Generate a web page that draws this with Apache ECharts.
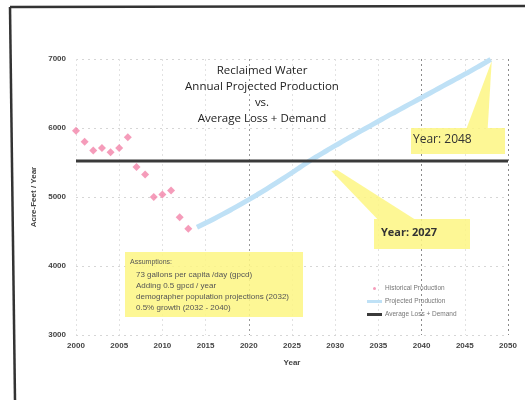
<!DOCTYPE html>
<html><head><meta charset="utf-8">
<script src="https://cdn.jsdelivr.net/npm/echarts@6/dist/echarts.min.js"></script>
<style>html,body{margin:0;padding:0;background:#fff}#c{width:525px;height:400px}</style>
</head><body><div id="c"></div>
<script>
const histYears = [2000,2001,2002,2003,2004,2005,2006,2007,2008,2009,2010,2011,2012,2013];
const histValues = [5960,5800,5675,5710,5650,5710,5865,5435,5325,5000,5035,5095,4705,4540];
const projYears = [2014,2015,2016,2017,2018,2019,2020,2021,2022,2023,2024,2025,2026,2027,2028,2029,2030,2031,2032,2033,2034,2035,2036,2037,2038,2039,2040,2041,2042,2043,2044,2045,2046,2047,2048];
const projValues = [4560,4622,4686,4752,4820,4890,4962,5036,5112,5190,5270,5352,5436,5520,5596,5670,5744,5816,5888,5958,6028,6098,6168,6236,6304,6372,6440,6508,6576,6644,6712,6780,6850,6920,6995];
const demandYears = [2000,2050];
const demandValues = [5520,5520];
const titleLines = ['Reclaimed Water','Annual Projected Production','vs.','Average Loss + Demand'];
const assumptions = ['Assumptions:','73 gallons per capita /day (gpcd)','Adding 0.5 gpcd / year','demographer population projections (2032)','0.5% growth (2032 - 2040)'];
const seriesNames = ['Historical Production','Projected Production','Average Loss + Demand'];

const chart = echarts.init(document.getElementById('c'));
const zip = (a,b)=>a.map((x,i)=>[x,b[i]]);
const lbl = {fontFamily:'Liberation Sans',fontSize:8,fontWeight:'bold',color:'#444'};
chart.setOption({
  animation:false,
  title:{text:titleLines.join('\n'),left:257,textAlign:'center',top:58,
    textStyle:{fontFamily:'Open Sans',fontSize:11.5,fontWeight:'normal',lineHeight:16,color:'#222'}},
  grid:{left:76,right:17,top:59,bottom:65},
  xAxis:{type:'value',min:2000,max:2050,interval:5,name:'Year',nameLocation:'middle',nameGap:24,
    nameTextStyle:{fontFamily:'Liberation Sans',fontSize:8,fontWeight:'bold',color:'#444'},
    axisLine:{show:false},axisTick:{show:false},
    axisLabel:Object.assign({margin:7,formatter:v=>String(v)},lbl),
    splitLine:{show:true,lineStyle:{type:[2,3],width:1,color:['#e2e2e2','#e2e2e2','#e2e2e2','#e2e2e2','#9a9a9a','#e2e2e2','#e2e2e2','#e2e2e2','#8a8a8a','#e2e2e2','#8a8a8a']}}},
  yAxis:{type:'value',min:3000,max:7000,interval:1000,name:'Acre-Feet / Year',nameLocation:'middle',nameGap:35,
    nameTextStyle:{fontFamily:'Liberation Sans',fontSize:8,fontWeight:'bold',color:'#444'},
    axisLine:{show:false},axisTick:{show:false},
    axisLabel:Object.assign({margin:10,formatter:v=>String(v)},lbl),
    splitLine:{show:true,lineStyle:{type:[2,4],width:1,color:'#d6d6d6'}}},
  legend:{orient:'vertical',left:362,top:280,itemWidth:15,itemHeight:3,itemGap:6,
    textStyle:{fontFamily:'Liberation Sans',fontSize:6.5,color:'#777',padding:[0,0,0,-2]},
    data:[{name:seriesNames[0],icon:'circle'},{name:seriesNames[1],icon:'rect'},{name:seriesNames[2],icon:'rect'}]},
  series:[
    {name:seriesNames[2],type:'line',data:zip(demandYears,demandValues),symbol:'none',
      lineStyle:{color:'#3a3a3a',width:3},itemStyle:{color:'#3a3a3a'},z:3},
    {name:seriesNames[1],type:'line',data:zip(projYears,projValues),symbol:'none',smooth:true,
      lineStyle:{color:'#bfe1f6',width:5},itemStyle:{color:'#bfe1f6'},z:2},
    {name:seriesNames[0],type:'scatter',data:zip(histYears,histValues),symbol:'diamond',symbolSize:8,
      itemStyle:{color:'#f283a9'},z:4}
  ]
});

const p48 = chart.convertToPixel({gridIndex:0},[2048,7000]);
const p27 = chart.convertToPixel({gridIndex:0},[2027,5520]);
const yellow = 'rgba(253,246,130,0.85)';
chart.setOption({graphic:[
  {type:'polyline',shape:{points:[[10,7],[525,6]]},style:{stroke:'#333',lineWidth:2.5,fill:null},z:100},
  {type:'polyline',shape:{points:[[10,7],[15,400]]},style:{stroke:'#333',lineWidth:2.5,fill:null},z:100},
  // 2048 callout
  {type:'polygon',shape:{points:[[p48[0]+1,p48[1]+2],[p48[0]-3,128],[p48[0]-24,128]]},style:{fill:yellow},z:10},
  {type:'rect',shape:{x:411,y:128,width:94,height:26},style:{fill:yellow},z:10},
  {type:'text',left:413,top:134,style:{text:'Year: 2048',fontFamily:'Open Sans',fontSize:12,fill:'#333'},z:11},
  // 2027 callout
  {type:'polygon',shape:{points:[[p27[0]+22,p27[1]+10],[p27[0]+28,p27[1]+9],[p27[0]+105,219],[p27[0]+68,219]]},style:{fill:yellow},z:10},
  {type:'rect',shape:{x:374,y:219,width:96,height:30},style:{fill:yellow},z:10},
  {type:'text',left:381,top:227,style:{text:'Year: 2027',fontFamily:'Open Sans',fontSize:11,fontWeight:'bold',fill:'#333'},z:11},
  // assumptions box
  {type:'rect',shape:{x:125,y:252,width:178,height:65},style:{fill:yellow},z:10},
  {type:'text',left:130,top:259,style:{text:assumptions[0],fontFamily:'Liberation Sans',fontSize:7,fill:'#555'},z:11},
  {type:'text',left:136,top:269,style:{text:assumptions.slice(1).join('\n'),fontFamily:'Liberation Sans',fontSize:8,lineHeight:11,fill:'#555'},z:11}
]});
</script></body></html>
